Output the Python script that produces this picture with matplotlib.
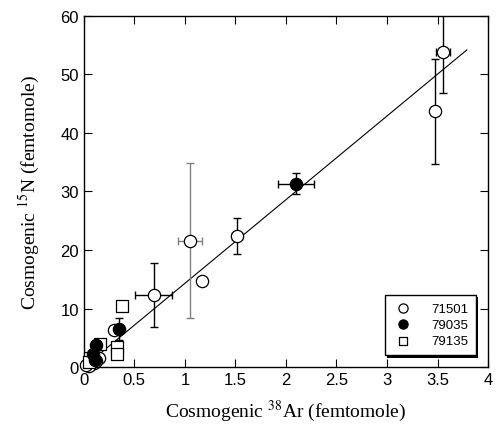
import matplotlib
matplotlib.use("Agg")
import matplotlib.pyplot as plt
from matplotlib.patches import Rectangle
import numpy as np

# 71501 (open circles)
x_71501 = [3.55, 3.47, 1.52, 1.05, 1.17, 0.69, 0.30, 0.15, 0.10, 0.05, 0.02, 0.12]
y_71501 = [53.8, 43.7, 22.4, 21.6, 14.7, 12.3, 6.4, 1.5, 0.6, 0.1, 0.3, 1.0]
xerr_71501 = [0.07, 0.0, 0.05, 0.12, 0.0, 0.18, 0.0, 0.0, 0.0, 0.0, 0.0, 0.0]
yerr_71501 = [7.0, 9.0, 3.0, 13.3, 0.0, 5.5, 0.0, 0.0, 0.0, 0.0, 0.0, 0.0]

# 79035 (filled circles)
x_79035 = [2.10, 0.35, 0.12, 0.09, 0.11]
y_79035 = [31.3, 6.5, 3.8, 2.2, 1.2]
xerr_79035 = [0.18, 0.0, 0.0, 0.0, 0.0]
yerr_79035 = [1.8, 1.8, 0.0, 0.0, 0.0]

# 79135 (open squares)
x_79135 = [0.38, 0.33, 0.33, 0.16, 0.06, 0.05]
y_79135 = [10.5, 3.5, 2.2, 4.0, 1.6, 0.8]

# regression line
fit_x = [0.0, 3.79]
slope = 14.3

plt.rcParams['font.family'] = ['Liberation Sans', 'DejaVu Sans']
plt.rcParams['mathtext.fontset'] = 'stix'

fig = plt.figure(figsize=(4.96, 4.35), dpi=100)
ax = fig.add_axes([0.169, 0.154, 0.815, 0.807])

fx = np.array(fit_x)
ax.plot(fx, slope * fx, color='black', lw=0.8, zorder=1)

# error bars (1.05 point drawn in grey)
for i in range(len(x_71501)):
    if xerr_71501[i] == 0 and yerr_71501[i] == 0:
        continue
    c = 'grey' if i == 3 else 'black'
    ax.errorbar(x_71501[i], y_71501[i], xerr=xerr_71501[i] or None,
                yerr=yerr_71501[i] or None, fmt='none', ecolor=c,
                elinewidth=1, capsize=3, capthick=1, zorder=2)
for i in range(len(x_79035)):
    if xerr_79035[i] == 0 and yerr_79035[i] == 0:
        continue
    ax.errorbar(x_79035[i], y_79035[i], xerr=xerr_79035[i] or None,
                yerr=yerr_79035[i] or None, fmt='none', ecolor='black',
                elinewidth=1, capsize=3, capthick=1, zorder=2)

ax.scatter(x_71501, y_71501, s=78, facecolors='white', edgecolors='black',
           linewidths=0.9, label='71501', zorder=3, clip_on=False)
ax.scatter(x_79035, y_79035, s=78, facecolors='black', edgecolors='black',
           linewidths=0.9, label='79035', zorder=4, clip_on=False)
ax.scatter(x_79135, y_79135, s=70, marker='s', facecolors='white',
           edgecolors='black', linewidths=0.9, label='79135', zorder=3,
           clip_on=False)

ax.set_xlim(0, 4)
ax.set_ylim(0, 60)
ax.set_xticks(np.arange(0, 4.01, 0.5))
ax.set_xticklabels(['0', '0.5', '1', '1.5', '2', '2.5', '3', '3.5', '4'])
ax.set_yticks(np.arange(0, 61, 10))
ax.tick_params(direction='in', top=True, right=True, length=6, labelsize=12)
for s in ax.spines.values():
    s.set_linewidth(1)

ax.set_xlabel('Cosmogenic $^{38}$Ar (femtomole)', fontsize=14,
              family='Liberation Serif', labelpad=8)
ax.set_ylabel('Cosmogenic $^{15}$N (femtomole)', fontsize=14,
              family='Liberation Serif', labelpad=13)

leg = ax.legend(loc='lower right', bbox_to_anchor=(0.97, 0.034), fontsize=9.5,
                frameon=True, fancybox=False, shadow=False,
                edgecolor='black', markerscale=0.75, handletextpad=1.3,
                handlelength=1.6, labelspacing=0.3, borderpad=0.6,
                borderaxespad=0, framealpha=1)
leg.get_frame().set_linewidth(1)
leg.set_zorder(10)

# thin drop shadow behind the legend box
fig.canvas.draw()
bb = leg.get_window_extent()
sh = Rectangle((bb.x0 + 2.5, bb.y0 - 2.5), bb.width, bb.height,
               transform=None, facecolor='black', edgecolor='none', zorder=9)
ax.add_artist(sh)

fig.savefig('out.png', dpi=100)
